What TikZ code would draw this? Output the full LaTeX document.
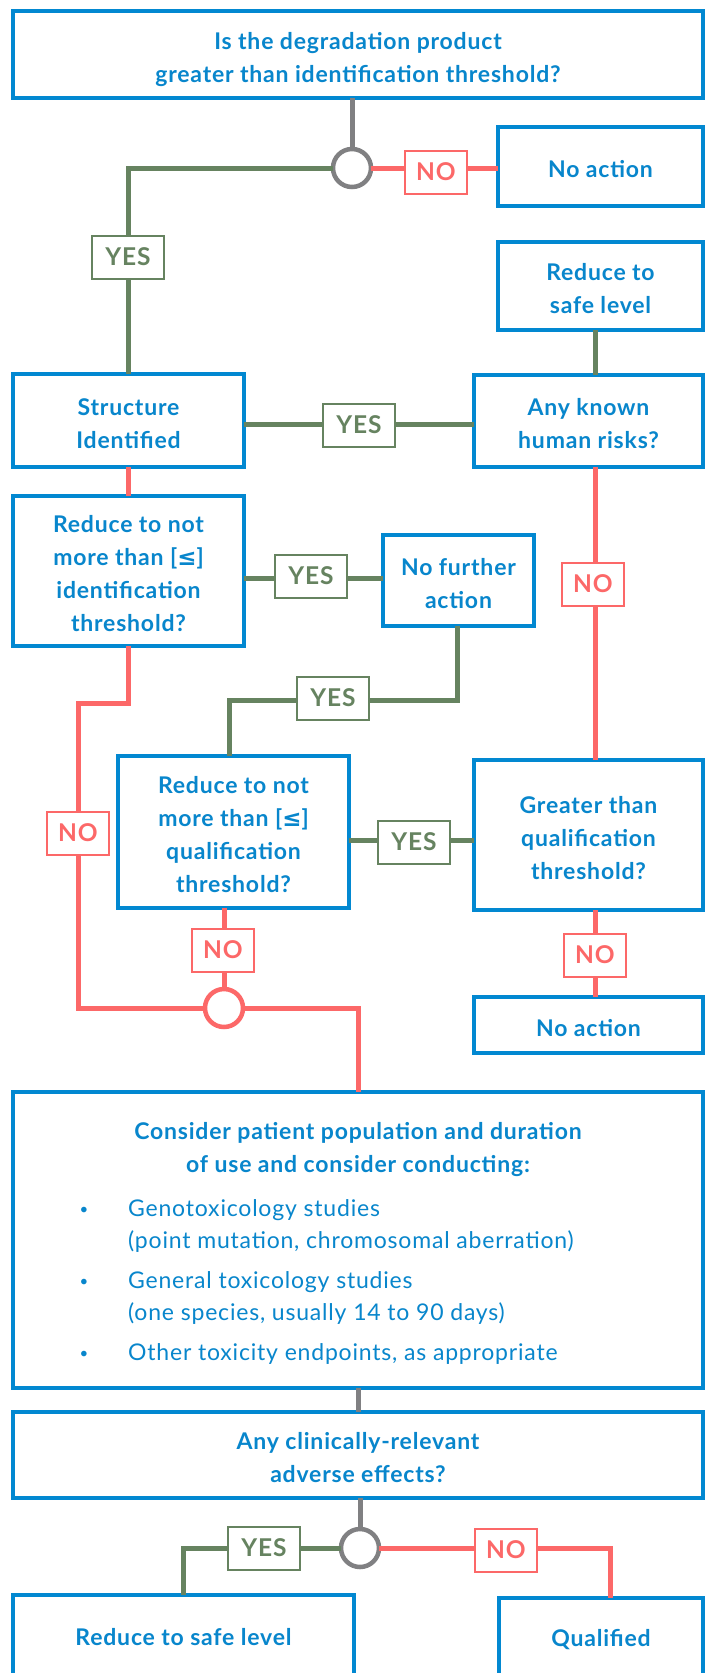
\documentclass[tikz,border=0pt]{standalone}
\usepackage{fontspec}
\setmainfont{Lato}[LetterSpace=3.5]
\newfontfamily\symfont{DejaVu Sans}
\definecolor{bblue}{RGB}{2,136,209}
\definecolor{tblue}{RGB}{8,134,204}
\definecolor{gcol}{RGB}{102,131,96}
\definecolor{rcol}{RGB}{252,104,104}
\definecolor{graycol}{RGB}{128,128,130}
\newcommand{\leqsym}{{\symfont\bfseries ≤}}
\begin{document}
\begin{tikzpicture}[x=1pt,y=-1pt,
  box/.style={draw=bblue, line width=4pt, fill=white, inner sep=0pt, outer sep=0pt},
  ctext/.style={text=tblue, font=\bfseries\fontsize{23}{33}\selectfont, align=center, inner sep=0pt, yshift=-3pt},
  lbl/.style={draw, line width=2pt, fill=white, font=\bfseries\fontsize{24.5}{25}\selectfont,
    inner sep=0pt, outer sep=0pt, minimum height=43pt},
  yes/.style={lbl, draw=gcol, text=gcol, minimum width=72pt},
  no/.style={lbl, draw=rcol, text=rcol, minimum width=62pt},
  gl/.style={draw=gcol, line width=5pt},
  rl/.style={draw=rcol, line width=5pt},
  yl/.style={draw=graycol, line width=5pt},
  junc/.style={circle, line width=4.5pt, fill=white, minimum size=38pt, inner sep=0pt, outer sep=0pt},
  btext/.style={text=tblue, font=\fontsize{23}{33}\selectfont, inner sep=0pt, anchor=west,
    text height=16pt, text depth=5pt},
  bdot/.style={text=tblue, font=\fontsize{15}{16}\selectfont, inner sep=0pt}
]
\useasboundingbox (0,0) rectangle (707,1673);
\fill[white] (0,0) rectangle (707,1673);

% boxes
\node[box, minimum width=690pt, minimum height=87pt] (top) at (358,54.5) {};
\node[ctext, yshift=-2pt] (topt) at (top) {Is the degradation product\\greater than identification threshold?};
\node[box, minimum width=205pt, minimum height=79pt] (noact1) at (600.5,166.5) {};
\node[ctext] (noact1t) at (noact1) {No action};
\node[box, minimum width=205pt, minimum height=88pt] (safe1) at (600.5,286) {};
\node[ctext] (safe1t) at (safe1) {Reduce to\\safe level};
\node[box, minimum width=231pt, minimum height=93pt] (struct) at (128.5,420.5) {};
\node[ctext] (structt) at (struct) {Structure\\Identified};
\node[box, minimum width=229pt, minimum height=92pt] (known) at (588.5,421) {};
\node[ctext] (knownt) at (known) {Any known\\human risks?};
\node[box, minimum width=231pt, minimum height=150pt] (redid) at (128.5,571) {};
\node[ctext] (redidt) at (redid) {Reduce to not\\more than [\leqsym]\\identification\\threshold?};
\node[box, minimum width=151pt, minimum height=91pt] (nofur) at (458.5,580.5) {};
\node[ctext] (nofurt) at (nofur) {No further\\action};
\node[box, minimum width=231pt, minimum height=152pt] (redq) at (233.5,832) {};
\node[ctext] (redqt) at (redq) {Reduce to not\\more than [\leqsym]\\qualification\\threshold?};
\node[box, minimum width=229pt, minimum height=150pt] (gtq) at (588.5,835) {};
\node[ctext] (gtqt) at (gtq) {Greater than\\qualification\\threshold?};
\node[box, minimum width=229pt, minimum height=56pt] (noact2) at (588.5,1025) {};
\node[ctext] (noact2t) at (noact2) {No action};
\node[box, minimum width=690pt, minimum height=296pt] (consider) at (358,1240) {};
\node[box, minimum width=690pt, minimum height=86pt] (clin) at (358,1455) {};
\node[ctext] (clint) at (clin) {Any clinically-relevant\\adverse effects?};
\node[box, minimum width=341pt, minimum height=84pt] (safe2) at (183.5,1637) {};
\node[ctext, yshift=3pt] (safe2t) at (safe2) {Reduce to safe level};
\node[box, minimum width=204pt, minimum height=84pt] (qual) at (601,1640) {};
\node[ctext, yshift=3pt] (qualt) at (qual) {Qualified};

% consider text
\node[ctext, yshift=0pt] (chead) at (358,1147) {Consider patient population and duration\\of use and consider conducting:};
\node[bdot] (d1) at (84,1211) {•};
\node[bdot] (d2) at (84,1283) {•};
\node[bdot] (d3) at (84,1355) {•};
\node[btext] (b1a) at (128,1211) {Genotoxicology studies};
\node[btext] (b1b) at (128,1243) {(point mutation, chromosomal aberration)};
\node[btext] (b2a) at (128,1283) {General toxicology studies};
\node[btext] (b2b) at (128,1315) {(one species, usually 14 to 90 days)};
\node[btext] (b3) at (128,1355) {Other toxicity endpoints, as appropriate};

% junctions
\node[junc, draw=graycol] (c1) at (352,168) {};
\node[junc, draw=rcol] (c2) at (224,1008) {};
\node[junc, draw=graycol] (c3) at (360,1548) {};

% helper coordinates
\coordinate (rx) at (595,0);
\coordinate (ya) at (0,424);
\coordinate (yb) at (0,578);
\coordinate (yc) at (0,700);
\coordinate (yd) at (0,703);
\coordinate (ye) at (0,840);
\coordinate (lx) at (78,0);
\coordinate (qx) at (229,0);
\coordinate (nx) at (457,0);
\coordinate (qlx) at (610,0);

% connectors
\draw[yl] (top.south -| c1) -- (c1.north);
\draw[rl] (c1.east) -- (c1.east -| noact1.west);
\draw[gl] (c1.west) -- (c1.west -| struct.north) -- (struct.north);
\draw[gl] (safe1.south -| rx) -- (known.north -| rx);
\draw[gl] (struct.east |- ya) -- (known.west |- ya);
\draw[rl] (struct.south) -- (redid.north);
\draw[gl] (redid.east |- yb) -- (nofur.west |- yb);
\draw[gl] (nofur.south -| nx) -- (nx |- yc) -- (qx |- yc) -- (redq.north -| qx);
\draw[rl] (redid.south) -- (redid.south |- yd) -- (lx |- yd) -- (lx |- c2.west) -- (c2.west);
\draw[rl] (redq.south -| c2) -- (c2.north);
\draw[rl] (c2.east) -- (c2.east -| consider.north) -- (consider.north);
\draw[rl] (known.south -| rx) -- (gtq.north -| rx);
\draw[gl] (redq.east |- ye) -- (gtq.west |- ye);
\draw[rl] (gtq.south -| rx) -- (noact2.north -| rx);
\draw[yl] (consider.south) -- (clin.north);
\draw[yl] (clin.south -| c3) -- (c3.north);
\draw[gl] (c3.west) -- (c3.west -| safe2.north) -- (safe2.north);
\draw[rl] (c3.east) -- (c3.east -| qlx) -- (qual.north -| qlx);

% labels
\node[no] (n1) at (436,172) {NO};
\node[yes] (y1) at (128,257) {YES};
\node[yes] (y2) at (359,425) {YES};
\node[yes] (y3) at (311,576) {YES};
\node[no] (n2) at (593,584) {NO};
\node[yes] (y4) at (333,698) {YES};
\node[no] (n3) at (78,833) {NO};
\node[yes] (y5) at (414,842) {YES};
\node[no] (n4) at (223,950) {NO};
\node[no] (n5) at (595,955) {NO};
\node[yes] (y6) at (264,1548) {YES};
\node[no] (n6) at (506,1550) {NO};
\end{tikzpicture}
\end{document}
